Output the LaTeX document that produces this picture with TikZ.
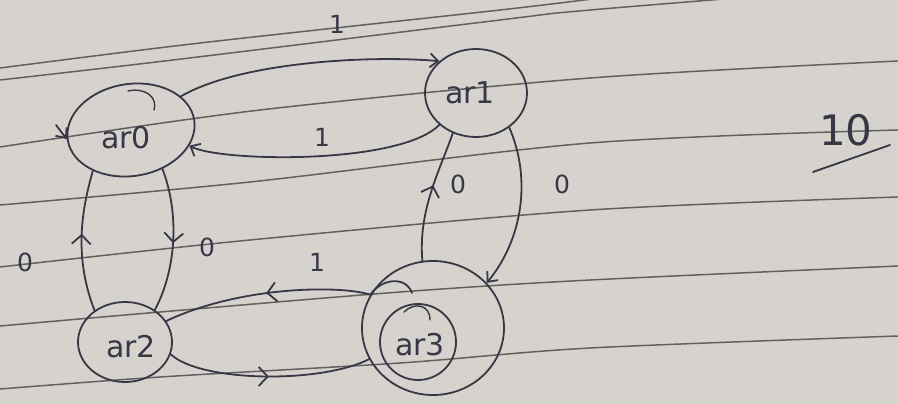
\documentclass[tikz,border=0pt]{standalone}
\usepackage{fontspec}
\setmainfont{DejaVu Sans}
\usetikzlibrary{arrows.meta,shapes.geometric,decorations.markings}
\definecolor{paper}{RGB}{214,211,206}
\definecolor{rulecol}{RGB}{100,96,96}
\definecolor{ink}{RGB}{55,55,70}
\tikzset{
  inkline/.style={draw=ink, line width=1.8pt, line cap=round, line join=round},
  state/.style={inkline, ellipse, inner sep=0pt},
  lbl/.style={text=ink, font=\fontsize{25}{27}\selectfont, inner sep=0pt},
  slbl/.style={text=ink, font=\fontsize{30}{32}\selectfont, inner sep=0pt},
  tipend/.style={-{Straight Barb[length=8pt,width=14pt,line width=1.8pt]}},
  midtip/.style={postaction={decorate}, decoration={markings,
     mark=at position #1 with {\arrow{Straight Barb[length=9pt,width=19pt,line width=1.8pt]}}}},
  ruled/.style={draw=rulecol, line width=1.5pt},
}
\begin{document}
\begin{tikzpicture}[x=1pt,y=-1pt]
\useasboundingbox (0,0) rectangle (898,404);
\clip (0,0) rectangle (898,404);
\fill[paper] (0,0) rectangle (898,404);
% ruled paper lines
\draw[ruled] plot[smooth] coordinates {(0,68) (200,43) (500,10) (600,-2)};
\draw[ruled] plot[smooth] coordinates {(0,80) (173,60) (500,20) (590,10) (898,-15)};
\draw[ruled] plot[smooth] coordinates {(0,147) (260,110) (590,78) (898,61)};
\draw[ruled] plot[smooth] coordinates {(0,205) (250,182) (590,143) (898,130)};
\draw[ruled] plot[smooth] coordinates {(0,267) (250,240) (590,210) (898,197)};
\draw[ruled] plot[smooth] coordinates {(0,326) (160,312) (400,292) (590,280) (898,266)};
\draw[ruled] plot[smooth] coordinates {(0,389) (160,377) (400,363) (590,348) (898,336)};

% states
\node[state, minimum width=128pt, minimum height=92pt, rotate=9] (q0) at (131,130) {};
\node[state, minimum width=102pt, minimum height=88pt] (q1) at (476,93) {};
\node[state, minimum width=94pt, minimum height=80pt] (q2) at (125,342) {};
\node[state, minimum width=142pt, minimum height=134pt] (q3o) at (433,328) {};
\node[state, minimum width=76pt, minimum height=76pt] (q3) at (418,342) {};

\node[slbl] (t0) at (126,138) {ar0};
\node[slbl] (t1) at (470,93) {ar1};
\node[slbl] (t2) at (131,347) {ar2};
\node[slbl] (t3) at (420,345) {ar3};

% start arrow
\coordinate (s0) at (56,125);
\draw[inkline, tipend] (s0) -- (q0.179);

% scribble arcs inside states
\coordinate (a0s) at (128,91);
\coordinate (a0e) at (154,110);
\draw[inkline, line width=1.4pt] (a0s) .. controls (146,87) and (158,98) .. (a0e);
\coordinate (a3s) at (404,312);
\coordinate (a3e) at (430,320);
\draw[inkline, line width=1.4pt] (a3s) .. controls (414,302) and (430,304) .. (a3e);

% transitions
\draw[inkline, tipend] (q0.25) .. controls (240,62) and (370,55) .. (q1.139);
\draw[inkline, tipend] (q1.221) .. controls (400,165) and (220,162) .. (q0.-24);
\draw[inkline, tipend] (q1.314) .. controls (532,180) and (522,240) .. (q3o.40);
\draw[inkline, midtip=0.58] (q3o.99) .. controls (418,210) and (440,170) .. (q1.240);
\draw[inkline, midtip=0.55] (q2.134) .. controls (75,260) and (80,215) .. (q0.218);
\draw[inkline, midtip=0.52] (q0.300) .. controls (180,215) and (176,270) .. (q2.47);
\coordinate (h3) at (412,293);
\draw[inkline, midtip=0.6] (h3) .. controls (406,276) and (382,278) .. (q3o.152)
   .. controls (340,285) and (240,286) .. (q2.27);
\draw[inkline, midtip=0.5] (q2.345) .. controls (200,382) and (320,384) .. (q3o.206);

% labels
\node[lbl] (l01) at (337,24) {1};
\node[lbl] (l10) at (322,137) {1};
\node[lbl] (l31) at (458,184) {0};
\node[lbl] (l13) at (562,184) {0};
\node[lbl] (l02) at (207,247) {0};
\node[lbl] (l20) at (25,262) {0};
\node[lbl] (l32) at (317,262) {1};

% score
\node[text=ink, font=\fontsize{42}{44}\selectfont, inner sep=0pt] (score) at (846,130) {10};
\coordinate (u1) at (813,172);
\coordinate (u2) at (890,145);
\draw[inkline] (u1) -- (u2);
\end{tikzpicture}
\end{document}
